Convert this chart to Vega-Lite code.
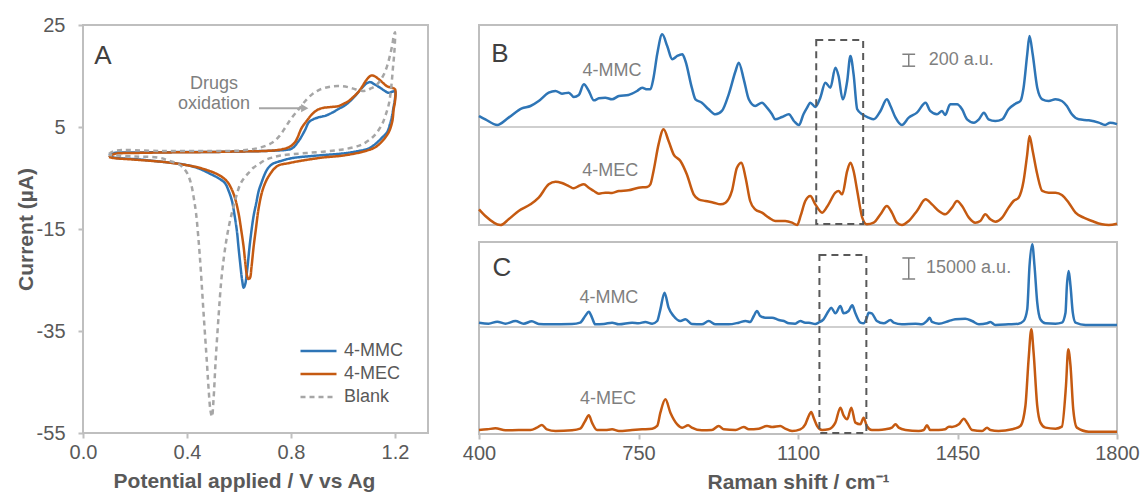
{
"$schema": "https://vega.github.io/schema/vega-lite/v6.json",
"background": "white",
"padding": {"left": 14, "top": 14, "right": 0, "bottom": 0},
"bounds": "flush",
"spacing": 51,
"datasets": {
"cv": [
{"s":"4-MMC","i":0,"E":0.1,"I":-0.6},{"s":"4-MMC","i":1,"E":0.12,"I":-0.1},{"s":"4-MMC","i":2,"E":0.2,"I":0},{"s":"4-MMC","i":3,"E":0.3,"I":0.05},{"s":"4-MMC","i":4,"E":0.4,"I":0.1},{"s":"4-MMC","i":5,"E":0.5,"I":0.1},{"s":"4-MMC","i":6,"E":0.6,"I":0.2},{"s":"4-MMC","i":7,"E":0.7,"I":0.3},{"s":"4-MMC","i":8,"E":0.75,"I":0.4},{"s":"4-MMC","i":9,"E":0.78,"I":0.5},{"s":"4-MMC","i":10,"E":0.804,"I":0.8},{"s":"4-MMC","i":11,"E":0.83,"I":2.3},{"s":"4-MMC","i":12,"E":0.855,"I":4.5},{"s":"4-MMC","i":13,"E":0.868,"I":5.9},{"s":"4-MMC","i":14,"E":0.885,"I":6.5},{"s":"4-MMC","i":15,"E":0.906,"I":6.9},{"s":"4-MMC","i":16,"E":0.932,"I":7.2},{"s":"4-MMC","i":17,"E":0.958,"I":7.8},{"s":"4-MMC","i":18,"E":0.985,"I":8.6},{"s":"4-MMC","i":19,"E":1.009,"I":9.3},{"s":"4-MMC","i":20,"E":1.03,"I":10.2},{"s":"4-MMC","i":21,"E":1.047,"I":11.1},{"s":"4-MMC","i":22,"E":1.065,"I":12.2},{"s":"4-MMC","i":23,"E":1.079,"I":13},{"s":"4-MMC","i":24,"E":1.092,"I":13.6},{"s":"4-MMC","i":25,"E":1.105,"I":13.8},{"s":"4-MMC","i":26,"E":1.12,"I":13.4},{"s":"4-MMC","i":27,"E":1.143,"I":12.7},{"s":"4-MMC","i":28,"E":1.16,"I":12.1},{"s":"4-MMC","i":29,"E":1.176,"I":11.7},{"s":"4-MMC","i":30,"E":1.188,"I":11.9},{"s":"4-MMC","i":31,"E":1.2,"I":12},{"s":"4-MMC","i":32,"E":1.2,"I":10.5},{"s":"4-MMC","i":33,"E":1.195,"I":9},{"s":"4-MMC","i":34,"E":1.188,"I":7},{"s":"4-MMC","i":35,"E":1.182,"I":5.8},{"s":"4-MMC","i":36,"E":1.17,"I":4},{"s":"4-MMC","i":37,"E":1.15,"I":2.9},{"s":"4-MMC","i":38,"E":1.13,"I":1.9},{"s":"4-MMC","i":39,"E":1.099,"I":0.8},{"s":"4-MMC","i":40,"E":1.05,"I":0.2},{"s":"4-MMC","i":41,"E":0.996,"I":-0.2},{"s":"4-MMC","i":42,"E":0.9,"I":-0.6},{"s":"4-MMC","i":43,"E":0.804,"I":-1.1},{"s":"4-MMC","i":44,"E":0.765,"I":-1.6},{"s":"4-MMC","i":45,"E":0.727,"I":-2.3},{"s":"4-MMC","i":46,"E":0.71,"I":-3.2},{"s":"4-MMC","i":47,"E":0.697,"I":-4.5},{"s":"4-MMC","i":48,"E":0.686,"I":-6},{"s":"4-MMC","i":49,"E":0.676,"I":-7.5},{"s":"4-MMC","i":50,"E":0.666,"I":-10},{"s":"4-MMC","i":51,"E":0.656,"I":-12.5},{"s":"4-MMC","i":52,"E":0.643,"I":-17.4},{"s":"4-MMC","i":53,"E":0.631,"I":-23.2},{"s":"4-MMC","i":54,"E":0.624,"I":-25.8},{"s":"4-MMC","i":55,"E":0.618,"I":-26.5},{"s":"4-MMC","i":56,"E":0.612,"I":-25},{"s":"4-MMC","i":57,"E":0.605,"I":-21.9},{"s":"4-MMC","i":58,"E":0.598,"I":-18.5},{"s":"4-MMC","i":59,"E":0.592,"I":-15.4},{"s":"4-MMC","i":60,"E":0.583,"I":-12.3},{"s":"4-MMC","i":61,"E":0.573,"I":-9.5},{"s":"4-MMC","i":62,"E":0.56,"I":-7.5},{"s":"4-MMC","i":63,"E":0.546,"I":-6},{"s":"4-MMC","i":64,"E":0.52,"I":-5},{"s":"4-MMC","i":65,"E":0.49,"I":-4.2},{"s":"4-MMC","i":66,"E":0.458,"I":-3.4},{"s":"4-MMC","i":67,"E":0.42,"I":-2.7},{"s":"4-MMC","i":68,"E":0.354,"I":-2.1},{"s":"4-MMC","i":69,"E":0.3,"I":-1.8},{"s":"4-MMC","i":70,"E":0.2,"I":-1.3},{"s":"4-MMC","i":71,"E":0.12,"I":-1},{"s":"4-MMC","i":72,"E":0.1,"I":-0.6},
{"s":"4-MEC","i":0,"E":0.1,"I":-0.9},{"s":"4-MEC","i":1,"E":0.12,"I":-0.3},{"s":"4-MEC","i":2,"E":0.2,"I":-0.1},{"s":"4-MEC","i":3,"E":0.3,"I":0},{"s":"4-MEC","i":4,"E":0.4,"I":0.05},{"s":"4-MEC","i":5,"E":0.5,"I":0.1},{"s":"4-MEC","i":6,"E":0.6,"I":0.2},{"s":"4-MEC","i":7,"E":0.7,"I":0.3},{"s":"4-MEC","i":8,"E":0.75,"I":0.5},{"s":"4-MEC","i":9,"E":0.79,"I":1},{"s":"4-MEC","i":10,"E":0.815,"I":2},{"s":"4-MEC","i":11,"E":0.842,"I":4.9},{"s":"4-MEC","i":12,"E":0.862,"I":6.3},{"s":"4-MEC","i":13,"E":0.881,"I":7.5},{"s":"4-MEC","i":14,"E":0.9,"I":8.3},{"s":"4-MEC","i":15,"E":0.919,"I":8.7},{"s":"4-MEC","i":16,"E":0.95,"I":8.9},{"s":"4-MEC","i":17,"E":0.983,"I":9.1},{"s":"4-MEC","i":18,"E":1.0,"I":9.5},{"s":"4-MEC","i":19,"E":1.022,"I":10.1},{"s":"4-MEC","i":20,"E":1.04,"I":10.9},{"s":"4-MEC","i":21,"E":1.06,"I":11.9},{"s":"4-MEC","i":22,"E":1.075,"I":13},{"s":"4-MEC","i":23,"E":1.087,"I":14},{"s":"4-MEC","i":24,"E":1.1,"I":14.8},{"s":"4-MEC","i":25,"E":1.109,"I":15.1},{"s":"4-MEC","i":26,"E":1.12,"I":15},{"s":"4-MEC","i":27,"E":1.137,"I":14.4},{"s":"4-MEC","i":28,"E":1.155,"I":13.6},{"s":"4-MEC","i":29,"E":1.169,"I":13},{"s":"4-MEC","i":30,"E":1.188,"I":12.7},{"s":"4-MEC","i":31,"E":1.2,"I":12.4},{"s":"4-MEC","i":32,"E":1.2,"I":10},{"s":"4-MEC","i":33,"E":1.195,"I":8.5},{"s":"4-MEC","i":34,"E":1.19,"I":6.2},{"s":"4-MEC","i":35,"E":1.178,"I":4.2},{"s":"4-MEC","i":36,"E":1.162,"I":2.9},{"s":"4-MEC","i":37,"E":1.145,"I":1.9},{"s":"4-MEC","i":38,"E":1.123,"I":1},{"s":"4-MEC","i":39,"E":1.08,"I":0.2},{"s":"4-MEC","i":40,"E":1.0,"I":-0.6},{"s":"4-MEC","i":41,"E":0.92,"I":-1},{"s":"4-MEC","i":42,"E":0.83,"I":-1.7},{"s":"4-MEC","i":43,"E":0.79,"I":-2.1},{"s":"4-MEC","i":44,"E":0.753,"I":-2.5},{"s":"4-MEC","i":45,"E":0.735,"I":-3.2},{"s":"4-MEC","i":46,"E":0.72,"I":-4.2},{"s":"4-MEC","i":47,"E":0.705,"I":-5.5},{"s":"4-MEC","i":48,"E":0.69,"I":-7.5},{"s":"4-MEC","i":49,"E":0.676,"I":-10.8},{"s":"4-MEC","i":50,"E":0.665,"I":-15},{"s":"4-MEC","i":51,"E":0.656,"I":-18.6},{"s":"4-MEC","i":52,"E":0.648,"I":-22.5},{"s":"4-MEC","i":53,"E":0.642,"I":-24.6},{"s":"4-MEC","i":54,"E":0.636,"I":-24.8},{"s":"4-MEC","i":55,"E":0.631,"I":-24.2},{"s":"4-MEC","i":56,"E":0.625,"I":-22},{"s":"4-MEC","i":57,"E":0.618,"I":-18.6},{"s":"4-MEC","i":58,"E":0.608,"I":-15},{"s":"4-MEC","i":59,"E":0.599,"I":-12.1},{"s":"4-MEC","i":60,"E":0.585,"I":-9},{"s":"4-MEC","i":61,"E":0.57,"I":-7},{"s":"4-MEC","i":62,"E":0.556,"I":-5.8},{"s":"4-MEC","i":63,"E":0.535,"I":-4.8},{"s":"4-MEC","i":64,"E":0.51,"I":-4.1},{"s":"4-MEC","i":65,"E":0.48,"I":-3.5},{"s":"4-MEC","i":66,"E":0.44,"I":-2.9},{"s":"4-MEC","i":67,"E":0.4,"I":-2.5},{"s":"4-MEC","i":68,"E":0.35,"I":-2.1},{"s":"4-MEC","i":69,"E":0.3,"I":-1.8},{"s":"4-MEC","i":70,"E":0.2,"I":-1.4},{"s":"4-MEC","i":71,"E":0.12,"I":-1.1},{"s":"4-MEC","i":72,"E":0.1,"I":-0.9},
{"s":"Blank","i":0,"E":0.1,"I":-0.3},{"s":"Blank","i":1,"E":0.12,"I":0.3},{"s":"Blank","i":2,"E":0.3,"I":0.3},{"s":"Blank","i":3,"E":0.5,"I":0.3},{"s":"Blank","i":4,"E":0.61,"I":0.4},{"s":"Blank","i":5,"E":0.676,"I":0.9},{"s":"Blank","i":6,"E":0.727,"I":1.9},{"s":"Blank","i":7,"E":0.755,"I":3.2},{"s":"Blank","i":8,"E":0.778,"I":4.9},{"s":"Blank","i":9,"E":0.8,"I":6.6},{"s":"Blank","i":10,"E":0.83,"I":8.5},{"s":"Blank","i":11,"E":0.855,"I":10.1},{"s":"Blank","i":12,"E":0.881,"I":11.4},{"s":"Blank","i":13,"E":0.905,"I":12.2},{"s":"Blank","i":14,"E":0.932,"I":12.7},{"s":"Blank","i":15,"E":0.965,"I":13},{"s":"Blank","i":16,"E":0.996,"I":13},{"s":"Blank","i":17,"E":1.02,"I":12.8},{"s":"Blank","i":18,"E":1.047,"I":12.4},{"s":"Blank","i":19,"E":1.07,"I":12.1},{"s":"Blank","i":20,"E":1.087,"I":12.1},{"s":"Blank","i":21,"E":1.105,"I":12.5},{"s":"Blank","i":22,"E":1.124,"I":13},{"s":"Blank","i":23,"E":1.142,"I":14},{"s":"Blank","i":24,"E":1.157,"I":15.3},{"s":"Blank","i":25,"E":1.17,"I":17},{"s":"Blank","i":26,"E":1.182,"I":19.3},{"s":"Blank","i":27,"E":1.19,"I":21.2},{"s":"Blank","i":28,"E":1.195,"I":22.8},{"s":"Blank","i":29,"E":1.2,"I":23.6},{"s":"Blank","i":30,"E":1.198,"I":20},{"s":"Blank","i":31,"E":1.192,"I":16.5},{"s":"Blank","i":32,"E":1.185,"I":12.5},{"s":"Blank","i":33,"E":1.176,"I":9.4},{"s":"Blank","i":34,"E":1.163,"I":7.2},{"s":"Blank","i":35,"E":1.15,"I":5.5},{"s":"Blank","i":36,"E":1.13,"I":3.9},{"s":"Blank","i":37,"E":1.112,"I":2.9},{"s":"Blank","i":38,"E":1.085,"I":1.9},{"s":"Blank","i":39,"E":1.06,"I":1.3},{"s":"Blank","i":40,"E":1.0,"I":0.6},{"s":"Blank","i":41,"E":0.932,"I":0.2},{"s":"Blank","i":42,"E":0.86,"I":-0.1},{"s":"Blank","i":43,"E":0.804,"I":-0.35},{"s":"Blank","i":44,"E":0.76,"I":-0.6},{"s":"Blank","i":45,"E":0.727,"I":-1},{"s":"Blank","i":46,"E":0.7,"I":-1.5},{"s":"Blank","i":47,"E":0.676,"I":-2.3},{"s":"Blank","i":48,"E":0.655,"I":-3},{"s":"Blank","i":49,"E":0.637,"I":-4},{"s":"Blank","i":50,"E":0.62,"I":-5},{"s":"Blank","i":51,"E":0.605,"I":-6.2},{"s":"Blank","i":52,"E":0.59,"I":-8.5},{"s":"Blank","i":53,"E":0.577,"I":-11},{"s":"Blank","i":54,"E":0.563,"I":-14},{"s":"Blank","i":55,"E":0.552,"I":-17},{"s":"Blank","i":56,"E":0.542,"I":-20.5},{"s":"Blank","i":57,"E":0.532,"I":-25},{"s":"Blank","i":58,"E":0.522,"I":-31.7},{"s":"Blank","i":59,"E":0.51,"I":-41},{"s":"Blank","i":60,"E":0.502,"I":-48.5},{"s":"Blank","i":61,"E":0.496,"I":-51.8},{"s":"Blank","i":62,"E":0.49,"I":-50.5},{"s":"Blank","i":63,"E":0.484,"I":-47},{"s":"Blank","i":64,"E":0.477,"I":-41.5},{"s":"Blank","i":65,"E":0.464,"I":-31.7},{"s":"Blank","i":66,"E":0.453,"I":-23},{"s":"Blank","i":67,"E":0.445,"I":-17.5},{"s":"Blank","i":68,"E":0.435,"I":-12},{"s":"Blank","i":69,"E":0.426,"I":-8.9},{"s":"Blank","i":70,"E":0.415,"I":-6},{"s":"Blank","i":71,"E":0.4,"I":-4},{"s":"Blank","i":72,"E":0.385,"I":-3},{"s":"Blank","i":73,"E":0.368,"I":-2.3},{"s":"Blank","i":74,"E":0.33,"I":-1.6},{"s":"Blank","i":75,"E":0.291,"I":-1},{"s":"Blank","i":76,"E":0.2,"I":-0.8},{"s":"Blank","i":77,"E":0.1,"I":-0.5}
],
"ramanB": [
{"s":"4-MMC","x":400,"y":1826},{"s":"4-MMC","x":414,"y":1770},{"s":"4-MMC","x":440,"y":1675},{"s":"4-MMC","x":465,"y":1798},{"s":"4-MMC","x":494,"y":1954},{"s":"4-MMC","x":513,"y":1993},{"s":"4-MMC","x":531,"y":2077},{"s":"4-MMC","x":553,"y":2217},{"s":"4-MMC","x":568,"y":2245},{"s":"4-MMC","x":582,"y":2200},{"s":"4-MMC","x":597,"y":2217},{"s":"4-MMC","x":608,"y":2144},{"s":"4-MMC","x":619,"y":2178},{"s":"4-MMC","x":630,"y":2356},{"s":"4-MMC","x":641,"y":2245},{"s":"4-MMC","x":652,"y":2088},{"s":"4-MMC","x":663,"y":2122},{"s":"4-MMC","x":677,"y":2133},{"s":"4-MMC","x":692,"y":2105},{"s":"4-MMC","x":707,"y":2161},{"s":"4-MMC","x":728,"y":2178},{"s":"4-MMC","x":747,"y":2245},{"s":"4-MMC","x":758,"y":2300},{"s":"4-MMC","x":769,"y":2272},{"s":"4-MMC","x":776,"y":2272},{"s":"4-MMC","x":783,"y":2468},{"s":"4-MMC","x":791,"y":2859},{"s":"4-MMC","x":802,"y":3194},{"s":"4-MMC","x":813,"y":2998},{"s":"4-MMC","x":824,"y":2775},{"s":"4-MMC","x":835,"y":2831},{"s":"4-MMC","x":846,"y":2859},{"s":"4-MMC","x":853,"y":2747},{"s":"4-MMC","x":867,"y":2300},{"s":"4-MMC","x":875,"y":2105},{"s":"4-MMC","x":889,"y":2049},{"s":"4-MMC","x":904,"y":1938},{"s":"4-MMC","x":919,"y":1854},{"s":"4-MMC","x":933,"y":1910},{"s":"4-MMC","x":948,"y":2189},{"s":"4-MMC","x":963,"y":2580},{"s":"4-MMC","x":970,"y":2719},{"s":"4-MMC","x":981,"y":2440},{"s":"4-MMC","x":992,"y":2105},{"s":"4-MMC","x":1006,"y":1993},{"s":"4-MMC","x":1021,"y":2049},{"s":"4-MMC","x":1032,"y":1965},{"s":"4-MMC","x":1043,"y":1854},{"s":"4-MMC","x":1050,"y":1770},{"s":"4-MMC","x":1065,"y":1809},{"s":"4-MMC","x":1080,"y":1854},{"s":"4-MMC","x":1091,"y":1742},{"s":"4-MMC","x":1102,"y":1675},{"s":"4-MMC","x":1112,"y":1854},{"s":"4-MMC","x":1120,"y":1965},{"s":"4-MMC","x":1127,"y":2049},{"s":"4-MMC","x":1138,"y":1977},{"s":"4-MMC","x":1149,"y":2133},{"s":"4-MMC","x":1160,"y":2384},{"s":"4-MMC","x":1171,"y":2300},{"s":"4-MMC","x":1182,"y":2635},{"s":"4-MMC","x":1189,"y":2496},{"s":"4-MMC","x":1198,"y":2105},{"s":"4-MMC","x":1208,"y":2412},{"s":"4-MMC","x":1215,"y":2831},{"s":"4-MMC","x":1222,"y":2524},{"s":"4-MMC","x":1230,"y":1938},{"s":"4-MMC","x":1241,"y":1854},{"s":"4-MMC","x":1255,"y":1798},{"s":"4-MMC","x":1266,"y":1770},{"s":"4-MMC","x":1281,"y":1910},{"s":"4-MMC","x":1295,"y":2105},{"s":"4-MMC","x":1303,"y":1993},{"s":"4-MMC","x":1314,"y":1798},{"s":"4-MMC","x":1328,"y":1675},{"s":"4-MMC","x":1343,"y":1798},{"s":"4-MMC","x":1361,"y":1882},{"s":"4-MMC","x":1380,"y":2049},{"s":"4-MMC","x":1390,"y":1910},{"s":"4-MMC","x":1405,"y":1854},{"s":"4-MMC","x":1416,"y":1910},{"s":"4-MMC","x":1423,"y":1843},{"s":"4-MMC","x":1434,"y":2021},{"s":"4-MMC","x":1449,"y":2021},{"s":"4-MMC","x":1460,"y":1938},{"s":"4-MMC","x":1471,"y":1770},{"s":"4-MMC","x":1486,"y":1714},{"s":"4-MMC","x":1497,"y":1770},{"s":"4-MMC","x":1508,"y":1882},{"s":"4-MMC","x":1518,"y":1770},{"s":"4-MMC","x":1533,"y":1742},{"s":"4-MMC","x":1548,"y":1770},{"s":"4-MMC","x":1562,"y":1938},{"s":"4-MMC","x":1577,"y":2032},{"s":"4-MMC","x":1588,"y":2077},{"s":"4-MMC","x":1595,"y":2300},{"s":"4-MMC","x":1603,"y":2859},{"s":"4-MMC","x":1608,"y":3166},{"s":"4-MMC","x":1615,"y":2859},{"s":"4-MMC","x":1625,"y":2300},{"s":"4-MMC","x":1636,"y":2105},{"s":"4-MMC","x":1650,"y":2077},{"s":"4-MMC","x":1665,"y":2105},{"s":"4-MMC","x":1679,"y":2077},{"s":"4-MMC","x":1690,"y":1993},{"s":"4-MMC","x":1701,"y":1854},{"s":"4-MMC","x":1716,"y":1770},{"s":"4-MMC","x":1738,"y":1753},{"s":"4-MMC","x":1760,"y":1714},{"s":"4-MMC","x":1774,"y":1675},{"s":"4-MMC","x":1785,"y":1714},{"s":"4-MMC","x":1800,"y":1690},
{"s":"4-MEC","x":400,"y":263},{"s":"4-MEC","x":414,"y":151},{"s":"4-MEC","x":447,"y":0},{"s":"4-MEC","x":465,"y":95},{"s":"4-MEC","x":487,"y":235},{"s":"4-MEC","x":513,"y":346},{"s":"4-MEC","x":531,"y":458},{"s":"4-MEC","x":553,"y":681},{"s":"4-MEC","x":568,"y":726},{"s":"4-MEC","x":582,"y":704},{"s":"4-MEC","x":597,"y":653},{"s":"4-MEC","x":608,"y":614},{"s":"4-MEC","x":619,"y":653},{"s":"4-MEC","x":630,"y":681},{"s":"4-MEC","x":641,"y":625},{"s":"4-MEC","x":652,"y":570},{"s":"4-MEC","x":663,"y":525},{"s":"4-MEC","x":677,"y":542},{"s":"4-MEC","x":692,"y":536},{"s":"4-MEC","x":707,"y":570},{"s":"4-MEC","x":728,"y":581},{"s":"4-MEC","x":750,"y":625},{"s":"4-MEC","x":769,"y":637},{"s":"4-MEC","x":776,"y":681},{"s":"4-MEC","x":783,"y":905},{"s":"4-MEC","x":794,"y":1351},{"s":"4-MEC","x":805,"y":1603},{"s":"4-MEC","x":816,"y":1407},{"s":"4-MEC","x":827,"y":1184},{"s":"4-MEC","x":842,"y":1072},{"s":"4-MEC","x":856,"y":849},{"s":"4-MEC","x":871,"y":514},{"s":"4-MEC","x":882,"y":430},{"s":"4-MEC","x":897,"y":402},{"s":"4-MEC","x":915,"y":374},{"s":"4-MEC","x":930,"y":346},{"s":"4-MEC","x":941,"y":374},{"s":"4-MEC","x":955,"y":570},{"s":"4-MEC","x":966,"y":960},{"s":"4-MEC","x":976,"y":1044},{"s":"4-MEC","x":985,"y":793},{"s":"4-MEC","x":995,"y":402},{"s":"4-MEC","x":1006,"y":263},{"s":"4-MEC","x":1021,"y":207},{"s":"4-MEC","x":1036,"y":123},{"s":"4-MEC","x":1050,"y":67},{"s":"4-MEC","x":1072,"y":67},{"s":"4-MEC","x":1087,"y":39},{"s":"4-MEC","x":1098,"y":0},{"s":"4-MEC","x":1106,"y":160},{"s":"4-MEC","x":1116,"y":402},{"s":"4-MEC","x":1127,"y":486},{"s":"4-MEC","x":1138,"y":346},{"s":"4-MEC","x":1153,"y":207},{"s":"4-MEC","x":1167,"y":346},{"s":"4-MEC","x":1182,"y":542},{"s":"4-MEC","x":1189,"y":570},{"s":"4-MEC","x":1197,"y":514},{"s":"4-MEC","x":1208,"y":905},{"s":"4-MEC","x":1215,"y":1044},{"s":"4-MEC","x":1222,"y":905},{"s":"4-MEC","x":1230,"y":570},{"s":"4-MEC","x":1241,"y":123},{"s":"4-MEC","x":1251,"y":11},{"s":"4-MEC","x":1266,"y":39},{"s":"4-MEC","x":1281,"y":179},{"s":"4-MEC","x":1295,"y":318},{"s":"4-MEC","x":1306,"y":207},{"s":"4-MEC","x":1317,"y":39},{"s":"4-MEC","x":1328,"y":0},{"s":"4-MEC","x":1343,"y":67},{"s":"4-MEC","x":1361,"y":235},{"s":"4-MEC","x":1380,"y":430},{"s":"4-MEC","x":1394,"y":346},{"s":"4-MEC","x":1409,"y":235},{"s":"4-MEC","x":1423,"y":179},{"s":"4-MEC","x":1438,"y":291},{"s":"4-MEC","x":1449,"y":402},{"s":"4-MEC","x":1460,"y":318},{"s":"4-MEC","x":1475,"y":123},{"s":"4-MEC","x":1489,"y":39},{"s":"4-MEC","x":1500,"y":67},{"s":"4-MEC","x":1511,"y":179},{"s":"4-MEC","x":1522,"y":95},{"s":"4-MEC","x":1533,"y":56},{"s":"4-MEC","x":1548,"y":123},{"s":"4-MEC","x":1562,"y":291},{"s":"4-MEC","x":1573,"y":402},{"s":"4-MEC","x":1584,"y":458},{"s":"4-MEC","x":1595,"y":737},{"s":"4-MEC","x":1603,"y":1184},{"s":"4-MEC","x":1608,"y":1491},{"s":"4-MEC","x":1615,"y":1240},{"s":"4-MEC","x":1625,"y":849},{"s":"4-MEC","x":1636,"y":570},{"s":"4-MEC","x":1650,"y":542},{"s":"4-MEC","x":1665,"y":542},{"s":"4-MEC","x":1679,"y":503},{"s":"4-MEC","x":1694,"y":374},{"s":"4-MEC","x":1709,"y":207},{"s":"4-MEC","x":1727,"y":123},{"s":"4-MEC","x":1745,"y":67},{"s":"4-MEC","x":1767,"y":11},{"s":"4-MEC","x":1782,"y":0},{"s":"4-MEC","x":1800,"y":22}
],
"ramanC": [
{"s":"4-MMC","x":400,"y":79446},{"s":"4-MMC","x":421,"y":78733},{"s":"4-MMC","x":440,"y":80160},{"s":"4-MMC","x":458,"y":78733},{"s":"4-MMC","x":480,"y":80633},{"s":"4-MMC","x":498,"y":78733},{"s":"4-MMC","x":516,"y":80397},{"s":"4-MMC","x":531,"y":78495},{"s":"4-MMC","x":553,"y":78257},{"s":"4-MMC","x":604,"y":78495},{"s":"4-MMC","x":622,"y":79446},{"s":"4-MMC","x":633,"y":84202},{"s":"4-MMC","x":641,"y":87293},{"s":"4-MMC","x":648,"y":83013},{"s":"4-MMC","x":655,"y":78257},{"s":"4-MMC","x":674,"y":78495},{"s":"4-MMC","x":692,"y":79446},{"s":"4-MMC","x":707,"y":78257},{"s":"4-MMC","x":736,"y":79446},{"s":"4-MMC","x":750,"y":78970},{"s":"4-MMC","x":765,"y":79922},{"s":"4-MMC","x":780,"y":78733},{"s":"4-MMC","x":791,"y":80633},{"s":"4-MMC","x":798,"y":88958},{"s":"4-MMC","x":807,"y":100848},{"s":"4-MMC","x":816,"y":90147},{"s":"4-MMC","x":827,"y":84202},{"s":"4-MMC","x":842,"y":80633},{"s":"4-MMC","x":853,"y":81824},{"s":"4-MMC","x":867,"y":78495},{"s":"4-MMC","x":889,"y":78257},{"s":"4-MMC","x":904,"y":80633},{"s":"4-MMC","x":919,"y":78257},{"s":"4-MMC","x":948,"y":78257},{"s":"4-MMC","x":970,"y":79446},{"s":"4-MMC","x":985,"y":80633},{"s":"4-MMC","x":995,"y":79922},{"s":"4-MMC","x":1003,"y":84202},{"s":"4-MMC","x":1010,"y":87769},{"s":"4-MMC","x":1017,"y":84202},{"s":"4-MMC","x":1028,"y":83013},{"s":"4-MMC","x":1043,"y":83013},{"s":"4-MMC","x":1058,"y":81348},{"s":"4-MMC","x":1069,"y":80633},{"s":"4-MMC","x":1080,"y":78970},{"s":"4-MMC","x":1094,"y":78733},{"s":"4-MMC","x":1105,"y":80633},{"s":"4-MMC","x":1116,"y":79446},{"s":"4-MMC","x":1124,"y":79446},{"s":"4-MMC","x":1138,"y":78495},{"s":"4-MMC","x":1145,"y":79446},{"s":"4-MMC","x":1156,"y":81824},{"s":"4-MMC","x":1167,"y":87769},{"s":"4-MMC","x":1173,"y":90147},{"s":"4-MMC","x":1182,"y":86103},{"s":"4-MMC","x":1193,"y":91336},{"s":"4-MMC","x":1200,"y":86103},{"s":"4-MMC","x":1211,"y":87769},{"s":"4-MMC","x":1219,"y":91811},{"s":"4-MMC","x":1226,"y":86103},{"s":"4-MMC","x":1237,"y":79446},{"s":"4-MMC","x":1244,"y":78970},{"s":"4-MMC","x":1251,"y":83013},{"s":"4-MMC","x":1255,"y":86580},{"s":"4-MMC","x":1262,"y":86103},{"s":"4-MMC","x":1273,"y":80633},{"s":"4-MMC","x":1288,"y":78970},{"s":"4-MMC","x":1303,"y":81348},{"s":"4-MMC","x":1310,"y":79446},{"s":"4-MMC","x":1328,"y":78257},{"s":"4-MMC","x":1358,"y":78733},{"s":"4-MMC","x":1372,"y":78257},{"s":"4-MMC","x":1383,"y":80633},{"s":"4-MMC","x":1389,"y":83013},{"s":"4-MMC","x":1394,"y":79922},{"s":"4-MMC","x":1409,"y":78733},{"s":"4-MMC","x":1431,"y":80633},{"s":"4-MMC","x":1445,"y":81824},{"s":"4-MMC","x":1467,"y":82300},{"s":"4-MMC","x":1482,"y":80633},{"s":"4-MMC","x":1497,"y":78257},{"s":"4-MMC","x":1515,"y":78970},{"s":"4-MMC","x":1522,"y":79922},{"s":"4-MMC","x":1533,"y":77782},{"s":"4-MMC","x":1562,"y":78257},{"s":"4-MMC","x":1584,"y":78733},{"s":"4-MMC","x":1595,"y":80633},{"s":"4-MMC","x":1603,"y":88958},{"s":"4-MMC","x":1608,"y":119872},{"s":"4-MMC","x":1614,"y":135329},{"s":"4-MMC","x":1619,"y":119872},{"s":"4-MMC","x":1625,"y":93714},{"s":"4-MMC","x":1632,"y":81824},{"s":"4-MMC","x":1643,"y":78970},{"s":"4-MMC","x":1665,"y":78733},{"s":"4-MMC","x":1679,"y":79446},{"s":"4-MMC","x":1687,"y":86580},{"s":"4-MMC","x":1690,"y":105604},{"s":"4-MMC","x":1694,"y":116305},{"s":"4-MMC","x":1698,"y":105604},{"s":"4-MMC","x":1703,"y":86580},{"s":"4-MMC","x":1709,"y":79446},{"s":"4-MMC","x":1731,"y":77782},{"s":"4-MMC","x":1767,"y":77782},{"s":"4-MMC","x":1800,"y":77782},
{"s":"4-MEC","x":400,"y":2874},{"s":"4-MEC","x":418,"y":3350},{"s":"4-MEC","x":436,"y":4063},{"s":"4-MEC","x":458,"y":2636},{"s":"4-MEC","x":487,"y":2874},{"s":"4-MEC","x":513,"y":2874},{"s":"4-MEC","x":527,"y":4539},{"s":"4-MEC","x":538,"y":6442},{"s":"4-MEC","x":549,"y":3350},{"s":"4-MEC","x":568,"y":2160},{"s":"4-MEC","x":604,"y":2636},{"s":"4-MEC","x":622,"y":3826},{"s":"4-MEC","x":633,"y":9295},{"s":"4-MEC","x":641,"y":13338},{"s":"4-MEC","x":648,"y":8106},{"s":"4-MEC","x":659,"y":2874},{"s":"4-MEC","x":677,"y":2874},{"s":"4-MEC","x":692,"y":3350},{"s":"4-MEC","x":707,"y":2160},{"s":"4-MEC","x":736,"y":2874},{"s":"4-MEC","x":758,"y":3350},{"s":"4-MEC","x":780,"y":3826},{"s":"4-MEC","x":791,"y":5728},{"s":"4-MEC","x":798,"y":15240},{"s":"4-MEC","x":809,"y":24752},{"s":"4-MEC","x":820,"y":15240},{"s":"4-MEC","x":835,"y":6917},{"s":"4-MEC","x":846,"y":4539},{"s":"4-MEC","x":859,"y":6204},{"s":"4-MEC","x":867,"y":4539},{"s":"4-MEC","x":889,"y":2636},{"s":"4-MEC","x":911,"y":2874},{"s":"4-MEC","x":926,"y":5728},{"s":"4-MEC","x":937,"y":3350},{"s":"4-MEC","x":963,"y":2874},{"s":"4-MEC","x":981,"y":5015},{"s":"4-MEC","x":992,"y":3350},{"s":"4-MEC","x":1014,"y":3826},{"s":"4-MEC","x":1032,"y":5728},{"s":"4-MEC","x":1043,"y":5015},{"s":"4-MEC","x":1061,"y":5728},{"s":"4-MEC","x":1072,"y":3826},{"s":"4-MEC","x":1087,"y":2160},{"s":"4-MEC","x":1105,"y":3350},{"s":"4-MEC","x":1116,"y":6917},{"s":"4-MEC","x":1122,"y":11673},{"s":"4-MEC","x":1129,"y":15715},{"s":"4-MEC","x":1135,"y":11000},{"s":"4-MEC","x":1142,"y":5728},{"s":"4-MEC","x":1153,"y":2874},{"s":"4-MEC","x":1167,"y":3350},{"s":"4-MEC","x":1182,"y":8106},{"s":"4-MEC","x":1193,"y":18807},{"s":"4-MEC","x":1200,"y":13338},{"s":"4-MEC","x":1208,"y":10484},{"s":"4-MEC","x":1217,"y":18807},{"s":"4-MEC","x":1226,"y":8106},{"s":"4-MEC","x":1237,"y":6917},{"s":"4-MEC","x":1244,"y":11673},{"s":"4-MEC","x":1251,"y":5728},{"s":"4-MEC","x":1262,"y":2874},{"s":"4-MEC","x":1277,"y":2874},{"s":"4-MEC","x":1292,"y":3350},{"s":"4-MEC","x":1306,"y":4539},{"s":"4-MEC","x":1314,"y":6917},{"s":"4-MEC","x":1321,"y":4539},{"s":"4-MEC","x":1336,"y":2874},{"s":"4-MEC","x":1365,"y":2160},{"s":"4-MEC","x":1376,"y":2874},{"s":"4-MEC","x":1383,"y":6204},{"s":"4-MEC","x":1390,"y":2874},{"s":"4-MEC","x":1409,"y":2874},{"s":"4-MEC","x":1423,"y":3350},{"s":"4-MEC","x":1431,"y":5253},{"s":"4-MEC","x":1438,"y":5015},{"s":"4-MEC","x":1453,"y":6917},{"s":"4-MEC","x":1464,"y":10960},{"s":"4-MEC","x":1471,"y":8106},{"s":"4-MEC","x":1482,"y":2874},{"s":"4-MEC","x":1504,"y":2160},{"s":"4-MEC","x":1515,"y":4539},{"s":"4-MEC","x":1522,"y":2874},{"s":"4-MEC","x":1540,"y":2160},{"s":"4-MEC","x":1570,"y":3350},{"s":"4-MEC","x":1588,"y":5728},{"s":"4-MEC","x":1599,"y":19996},{"s":"4-MEC","x":1606,"y":53288},{"s":"4-MEC","x":1612,"y":74690},{"s":"4-MEC","x":1617,"y":58044},{"s":"4-MEC","x":1625,"y":19996},{"s":"4-MEC","x":1632,"y":8106},{"s":"4-MEC","x":1643,"y":4539},{"s":"4-MEC","x":1665,"y":3826},{"s":"4-MEC","x":1679,"y":5253},{"s":"4-MEC","x":1688,"y":34264},{"s":"4-MEC","x":1693,"y":60422},{"s":"4-MEC","x":1698,"y":48532},{"s":"4-MEC","x":1704,"y":17618},{"s":"4-MEC","x":1712,"y":4539},{"s":"4-MEC","x":1738,"y":1685},{"s":"4-MEC","x":1800,"y":1685}
]
},
"hconcat": [
{
"width": 345, "height": 408,
"layer": [
{"data": {"name": "cv"},
 "mark": {"type": "line", "strokeWidth": 2.5, "interpolate": "catmull-rom"},
 "encoding": {
  "x": {"field": "E", "type": "quantitative", "scale": {"domain": [0, 1.327], "nice": false, "zero": false},
        "axis": {"values": [0, 0.4, 0.8, 1.2], "format": ".1f", "title": "Potential applied / V vs Ag", "titleX": 161, "labelPadding": 4, "titlePadding": 8}},
  "y": {"field": "I", "type": "quantitative", "scale": {"domain": [-55, 25], "nice": false, "zero": false},
        "axis": {"values": [25, 5, -15, -35, -55], "labelExpr": "replace(datum.label, '−', '-')", "title": "Current (µA)", "labelPadding": 13, "titlePadding": 0}},
  "color": {"field": "s", "type": "nominal", "scale": {"domain": ["4-MMC", "4-MEC", "Blank"], "range": ["#2e75b6", "#c55a11", "#a6a6a6"]},
        "legend": {"orient": "none", "legendX": 216, "legendY": 315, "title": null, "symbolType": "stroke", "symbolSize": 1296, "symbolStrokeWidth": 2.5, "labelFontSize": 18, "labelColor": "#595959", "labelOffset": 6, "clipHeight": 22, "rowPadding": 1, "padding": 0}},
  "strokeDash": {"field": "s", "type": "nominal", "scale": {"domain": ["4-MMC", "4-MEC", "Blank"], "range": [[1, 0], [1, 0], [5, 4]]}},
  "order": {"field": "i", "type": "quantitative"}
 }},
{"data": {"values": [{}]},
 "mark": {"type": "text", "fontSize": 26, "color": "#404040", "align": "center", "baseline": "middle"},
 "encoding": {"x": {"datum": 0.077}, "y": {"datum": 18.9}, "text": {"value": "A"}}},
{"data": {"values": [{}]},
 "mark": {"type": "text", "fontSize": 18, "color": "#7f7f7f", "align": "center", "baseline": "middle"},
 "encoding": {"x": {"datum": 0.504}, "y": {"datum": 13.4}, "text": {"value": "Drugs"}}},
{"data": {"values": [{}]},
 "mark": {"type": "text", "fontSize": 18, "color": "#7f7f7f", "align": "center", "baseline": "middle"},
 "encoding": {"x": {"datum": 0.504}, "y": {"datum": 9.5}, "text": {"value": "oxidation"}}},
{"data": {"values": [{}]},
 "mark": {"type": "rule", "color": "#a6a6a6", "strokeWidth": 2},
 "encoding": {"x": {"datum": 0.677}, "x2": {"datum": 0.85}, "y": {"datum": 8.7}}},
{"data": {"values": [{}]},
 "mark": {"type": "point", "shape": "triangle-right", "filled": true, "color": "#a6a6a6", "size": 70, "opacity": 1},
 "encoding": {"x": {"datum": 0.853}, "y": {"datum": 8.7}}}
]
},
{
"bounds": "flush",
"spacing": 17,
"vconcat": [
{
"width": 638, "height": 200,
"layer": [
{"data": {"values": [{}]},
 "mark": {"type": "rule", "color": "#bfbfbf", "strokeWidth": 1.5},
 "encoding": {"y": {"datum": 1642, "scale": {"domain": [0, 3350], "nice": false}, "axis": null}}},
{"data": {"name": "ramanB"},
 "mark": {"type": "line", "strokeWidth": 2.5, "interpolate": "monotone"},
 "encoding": {
  "x": {"field": "x", "type": "quantitative", "scale": {"domain": [400, 1800], "nice": false, "zero": false}, "axis": null},
  "y": {"field": "y", "type": "quantitative", "scale": {"domain": [0, 3350], "nice": false},
        "axis": {"title": "Intensity", "labels": false, "ticks": false, "titlePadding": 11}},
  "color": {"field": "s", "type": "nominal", "scale": {"domain": ["4-MMC", "4-MEC", "Blank"], "range": ["#2e75b6", "#c55a11", "#a6a6a6"]}, "legend": null}
 }},
{"data": {"values": [{}]},
 "mark": {"type": "rect", "fillOpacity": 0, "stroke": "#595959", "strokeWidth": 2, "strokeDash": [7, 5]},
 "encoding": {"x": {"datum": 1140}, "x2": {"datum": 1243}, "y": {"datum": 3100}, "y2": {"datum": 15}}},
{"data": {"values": [{}]},
 "mark": {"type": "rule", "color": "#808080", "strokeWidth": 1.5},
 "encoding": {"x": {"datum": 1343}, "y": {"datum": 2660}, "y2": {"datum": 2860}}},
{"data": {"values": [{}]},
 "mark": {"type": "rule", "color": "#808080", "strokeWidth": 1.5},
 "encoding": {"x": {"datum": 1329}, "x2": {"datum": 1357}, "y": {"datum": 2660}}},
{"data": {"values": [{}]},
 "mark": {"type": "rule", "color": "#808080", "strokeWidth": 1.5},
 "encoding": {"x": {"datum": 1329}, "x2": {"datum": 1357}, "y": {"datum": 2860}}},
{"data": {"values": [{}]},
 "mark": {"type": "text", "fontSize": 18, "color": "#7f7f7f", "align": "left", "baseline": "middle"},
 "encoding": {"x": {"datum": 1387}, "y": {"datum": 2764}, "text": {"value": "200 a.u."}}},
{"data": {"values": [{}]},
 "mark": {"type": "text", "fontSize": 18, "color": "#7f7f7f", "align": "center", "baseline": "middle"},
 "encoding": {"x": {"datum": 692}, "y": {"datum": 2580}, "text": {"value": "4-MMC"}}},
{"data": {"values": [{}]},
 "mark": {"type": "text", "fontSize": 18, "color": "#7f7f7f", "align": "center", "baseline": "middle"},
 "encoding": {"x": {"datum": 688}, "y": {"datum": 905}, "text": {"value": "4-MEC"}}},
{"data": {"values": [{}]},
 "mark": {"type": "text", "fontSize": 26, "color": "#404040", "align": "center", "baseline": "middle"},
 "encoding": {"x": {"datum": 446}, "y": {"datum": 2864}, "text": {"value": "B"}}}
]
},
{
"width": 638, "height": 192,
"layer": [
{"data": {"values": [{}]},
 "mark": {"type": "rule", "color": "#bfbfbf", "strokeWidth": 1.5},
 "encoding": {"y": {"datum": 76350, "scale": {"domain": [0, 137000], "nice": false}, "axis": null}}},
{"data": {"name": "ramanC"},
 "mark": {"type": "line", "strokeWidth": 2.5, "interpolate": "monotone"},
 "encoding": {
  "x": {"field": "x", "type": "quantitative", "scale": {"domain": [400, 1800], "nice": false, "zero": false},
        "axis": {"values": [400, 750, 1100, 1450, 1800], "format": "d", "title": "Raman shift / cm⁻¹", "labelPadding": 4, "titlePadding": 8}},
  "y": {"field": "y", "type": "quantitative", "scale": {"domain": [0, 137000], "nice": false},
        "axis": {"title": "Intensity", "labels": false, "ticks": false, "titlePadding": 11}},
  "color": {"field": "s", "type": "nominal", "scale": {"domain": ["4-MMC", "4-MEC", "Blank"], "range": ["#2e75b6", "#c55a11", "#a6a6a6"]}, "legend": null}
 }},
{"data": {"values": [{}]},
 "mark": {"type": "rect", "fillOpacity": 0, "stroke": "#595959", "strokeWidth": 2, "strokeDash": [7, 5]},
 "encoding": {"x": {"datum": 1147}, "x2": {"datum": 1250}, "y": {"datum": 127700}, "y2": {"datum": 700}}},
{"data": {"values": [{}]},
 "mark": {"type": "rule", "color": "#808080", "strokeWidth": 1.5},
 "encoding": {"x": {"datum": 1343}, "y": {"datum": 110600}, "y2": {"datum": 125600}}},
{"data": {"values": [{}]},
 "mark": {"type": "rule", "color": "#808080", "strokeWidth": 1.5},
 "encoding": {"x": {"datum": 1329}, "x2": {"datum": 1357}, "y": {"datum": 110600}}},
{"data": {"values": [{}]},
 "mark": {"type": "rule", "color": "#808080", "strokeWidth": 1.5},
 "encoding": {"x": {"datum": 1329}, "x2": {"datum": 1357}, "y": {"datum": 125600}}},
{"data": {"values": [{}]},
 "mark": {"type": "text", "fontSize": 18, "color": "#7f7f7f", "align": "left", "baseline": "middle"},
 "encoding": {"x": {"datum": 1381}, "y": {"datum": 118100}, "text": {"value": "15000 a.u."}}},
{"data": {"values": [{}]},
 "mark": {"type": "text", "fontSize": 18, "color": "#7f7f7f", "align": "center", "baseline": "middle"},
 "encoding": {"x": {"datum": 685}, "y": {"datum": 97000}, "text": {"value": "4-MMC"}}},
{"data": {"values": [{}]},
 "mark": {"type": "text", "fontSize": 18, "color": "#7f7f7f", "align": "center", "baseline": "middle"},
 "encoding": {"x": {"datum": 683}, "y": {"datum": 25000}, "text": {"value": "4-MEC"}}},
{"data": {"values": [{}]},
 "mark": {"type": "text", "fontSize": 26, "color": "#404040", "align": "center", "baseline": "middle"},
 "encoding": {"x": {"datum": 450}, "y": {"datum": 118400}, "text": {"value": "C"}}}
]
}
]
}
],
"config": {
 "font": "Liberation Sans",
 "view": {"stroke": "#bfbfbf", "strokeWidth": 2},
 "axis": {"domain": false, "grid": false, "labelFlush": false, "labelFontSize": 20, "labelColor": "#595959", "titleFontSize": 21, "titleColor": "#595959", "titleFontWeight": "bold", "tickColor": "#bfbfbf", "tickWidth": 2, "tickSize": 5},
 "legend": {"labelFont": "Liberation Sans"}
}
}
